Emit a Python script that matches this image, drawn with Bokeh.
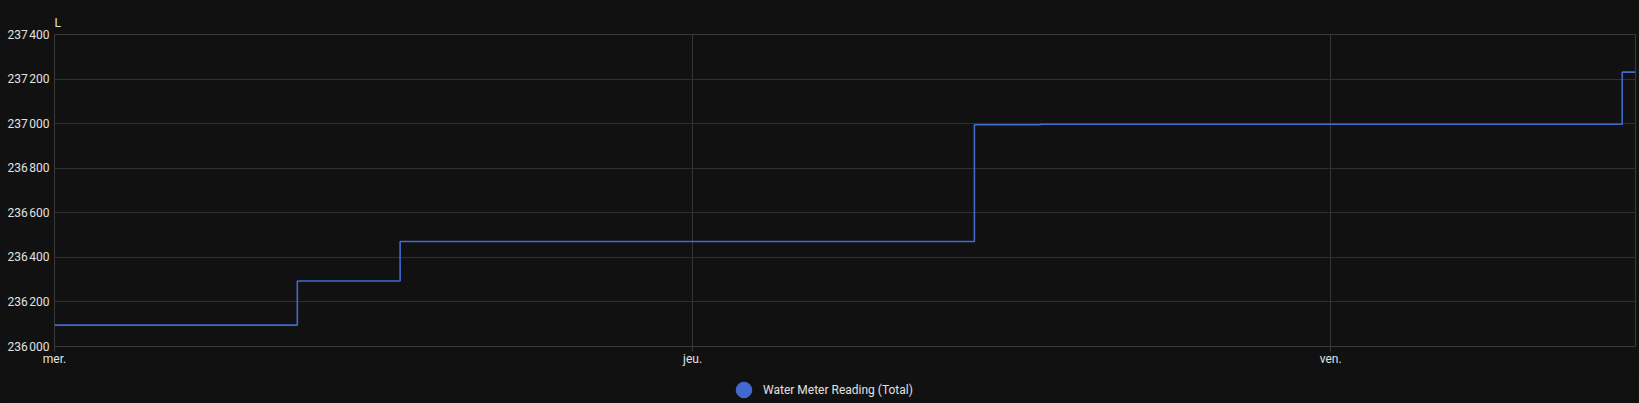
import pandas as pd
from bokeh.plotting import figure
from bokeh.layouts import column
from bokeh.models import (Range1d, FixedTicker, CustomJSTickFormatter, Legend,
                          LegendItem, ColumnDataSource)
from bokeh.embed import file_html
from bokeh.resources import INLINE

# ---- data ----
step_times = ["2025-01-15 00:00", "2025-01-15 09:08", "2025-01-15 13:00",
              "2025-01-16 10:36", "2025-01-16 13:05", "2025-01-17 10:58",
              "2025-01-17 11:28"]
readings = [236096, 236294, 236471, 236995, 236997, 237231, 237231]
day_ticks = ["2025-01-15", "2025-01-16", "2025-01-17"]
day_labels = ["mer.", "jeu.", "ven."]
y_ticks = [236000, 236200, 236400, 236600, 236800, 237000, 237200, 237400]
series_name = "Water Meter Reading (Total)"
unit_label = "L"
x_start, x_end = "2025-01-15 00:00", "2025-01-17 11:28"

BG = "#111111"
TXT = "#e1e1e1"
GRID = "#303030"
LINE = "#4269d0"
FONT = "Roboto"

W = 1639
LEGEND_H = 31

src = ColumnDataSource(dict(t=pd.to_datetime(step_times), v=readings))

p = figure(width=W, height=403 - LEGEND_H, x_axis_type="datetime",
           output_backend="svg", toolbar_location=None,
           background_fill_color=BG, border_fill_color=BG,
           min_border_left=54, min_border_right=4,
           min_border_top=34, min_border_bottom=26,
           x_range=Range1d(pd.Timestamp(x_start), pd.Timestamp(x_end)),
           y_range=Range1d(y_ticks[0], y_ticks[-1]))
p.outline_line_color = "#3a3a3a"

step_r = p.step("t", "v", source=src, mode="after", line_color=LINE, line_width=1.6)

# title as the unit label
p.title.text = unit_label
p.title.align = "left"
p.title.text_font = FONT
p.title.text_font_size = "12px"
p.title.text_font_style = "normal"
p.title.text_color = TXT
p.title.standoff = 9

# axes
tick_ms = [pd.Timestamp(d).value // 10**6 for d in day_ticks]
p.xaxis.ticker = FixedTicker(ticks=tick_ms)
p.xaxis.formatter = CustomJSTickFormatter(
    args=dict(tvals=tick_ms, tnames=day_labels),
    code="const i = tvals.indexOf(tick); return i >= 0 ? tnames[i] : '';")
p.yaxis.ticker = FixedTicker(ticks=y_ticks)
p.yaxis.formatter = CustomJSTickFormatter(
    code=r"return Math.round(tick).toString().replace(/\B(?=(\d{3})+(?!\d))/g, '\u202f');")

for ax in (p.xaxis[0], p.yaxis[0]):
    ax.axis_line_color = None
    ax.minor_tick_line_color = None
    ax.minor_tick_out = 0
    ax.major_label_text_font = FONT
    ax.major_label_text_font_size = "12px"
    ax.major_label_text_color = TXT
p.yaxis.major_tick_line_color = None
p.yaxis.major_tick_out = 0
p.yaxis.major_tick_in = 0
p.yaxis.major_label_standoff = 5
p.xaxis.major_tick_line_color = "#3a3a3a"
p.xaxis.major_tick_in = 0
p.xaxis.major_tick_out = 5
p.xaxis.major_label_standoff = 0

p.xgrid.grid_line_color = "#363636"
p.ygrid.grid_line_color = GRID

# ---- legend strip below the chart ----
lf = figure(width=W, height=LEGEND_H, output_backend="svg",
            toolbar_location=None, x_range=Range1d(0, 1), y_range=Range1d(0, 1),
            x_axis_location=None, y_axis_location=None, min_border=0,
            background_fill_color=BG, border_fill_color=BG)
lf.outline_line_color = None
for g in lf.grid:
    g.visible = False
# helper renderer that only supplies the legend swatch (its point lies outside the view)
swatch = lf.scatter(x=[-1], y=[-1], marker="circle", size=15,
                    fill_color=LINE, line_color=LINE)
legend = Legend(items=[LegendItem(label=series_name, renderers=[swatch])],
                location=(670, -6), glyph_width=39, glyph_height=39,
                label_standoff=-15, label_height=16, padding=0, spacing=0,
                margin=0, border_line_color=None, background_fill_alpha=0,
                label_text_color=TXT, label_text_font=FONT,
                label_text_font_size="12px")
lf.add_layout(legend)

layout = column(p, lf, spacing=0)

template = """{% block preamble %}<style>html, body {margin:0 !important; padding:0 !important; background:#111111; overflow:hidden;}</style>{% endblock %}"""
open("out.html", "w").write(file_html(layout, INLINE, template=template))
